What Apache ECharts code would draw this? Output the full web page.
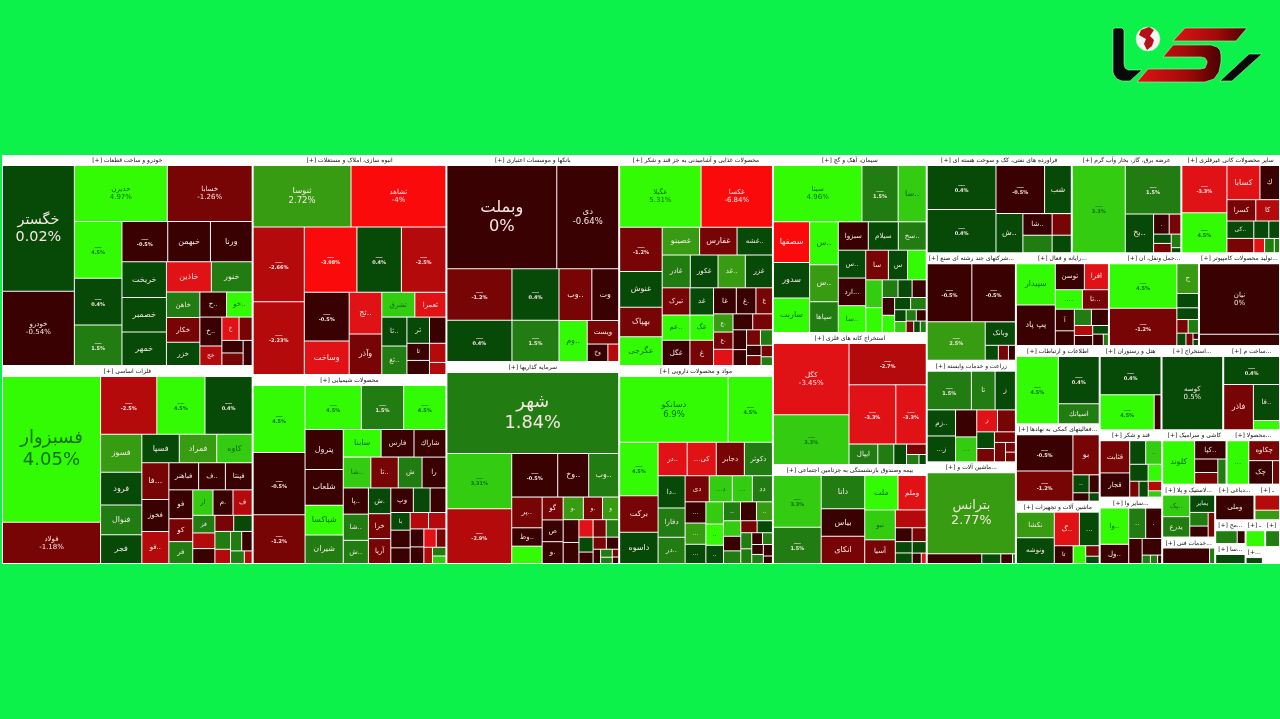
<!DOCTYPE html>
<html lang="fa"><head><meta charset="utf-8">
<style>html,body{margin:0;padding:0;background:#0df24a}#c{width:1280px;height:719px;filter:blur(.35px)}</style>
<script src="https://cdn.jsdelivr.net/npm/echarts@6/dist/echarts.min.js"></script>
</head><body><div id="c"></div>
<script>
// B marks a ticker too small to read in the picture.
const B='ــــ';
const sectorTitles=['خودرو و ساخت قطعات','فلزات اساسی','انبوه سازی، املاک و مستغلات','محصولات شیمیایی','بانکها و موسسات اعتباری','سرمایه گذاریها','محصولات غذایی و آشامیدنی به جز قند و شکر','مواد و محصولات دارویی','سیمان، آهک و گچ','استخراج کانه های فلزی','بیمه وصندوق بازنشستگی به جزتامین اجتماعی','فراورده های نفتی، کک و سوخت هسته ای','عرضه برق، گاز، بخار وآب گرم','سایر محصولات کانی غیرفلزی','شرکتهای چند رشته ای صنع...','ماشین آلات و دستگاههای بر...','زراعت و خدمات وابسته','رایانه و فعالیت های وابسته به آن','حمل ونقل، انبارداری و ارتباطا...','تولید محصولات کامپیوتر...','اطلاعات و ارتباطات','فعالیتهای کمکی به نهادها...','ماشین آلات و تجهیزات','هتل و رستوران','قند و شکر','سایر واسطه گری...','استخراج سایر معا...','ساخت محصولا...','کاشی و سرامیک','محصولات کاغ...','لاستیک و پلا...','خدمات فنی...','دباغی...','ـ','مح...','ـ ','ـ  ','سا...','ـ   ',''];
const sectorAreas=[52961,49698,42680,36666,35811,34946,32494,30492,27412,20328,15246,14259,10767,9700,9600,9078,9078,8649,8370,7533,6560,6500,5229,5210,4216,4154,5200,4788,3510,2916,2808,1404,1400,910,725,525,400,609,294,290];

const autoNames=['خگستر','خودرو','حدیرن','خسابا',B,B,B,B,'خبهمن','ورنا','خریخت','خصمبر','خمهر','خاذین','خنور','خاهن','خکر...','خوساز','خکار','خزر','خ...','خج...','خ...','','','',''];
const autoSizes=[8610,5040,4914,4482,2530,2070,1794,1716,1599,1560,1462,1419,1376,1247,1131,768,600,576,750,704,570,378,352,264,228,228,192];
const autoChanges=[0.02,-0.54,4.97,-1.26,4.5,0.4,1.5,-0.5,-0.5,-0.5,0.4,0.4,0.4,-3.3,1.5,1.5,-0.5,4.5,-1.2,0.4,-0.5,-2.5,-3.3,-1.2,-1.2,-0.5,-0.5];

const metalNames=['فسبزوار','فولاد',B,B,B,'فسوز','فرود','فنوال','فجر','فمراد','فسپا','کاوه','فا...','فولای','فخوز','فباهنر','فپنتا','فسا...','فولاژ','کویر','فرآور','ارفع','فزر...','کیمیا','فع...','م...','ف...','فن...','','','','','','',''];
const metalSizes=[13585,3800,3025,2585,2530,1440,1240,1120,1080,972,972,918,900,780,780,725,650,650,616,484,462,455,340,300,260,450,430,285,255,238,187,170,182,143,77];
const metalChanges=[4.05,-1.18,-2.5,4.5,0.4,2.5,0.4,1.5,0.4,2.5,0.4,3.3,-1.2,-2.5,-0.5,-0.5,-0.5,-0.5,-0.5,-1.2,1.5,3.3,1.5,-2.5,-1.2,-0.5,-2.5,-0.5,0.4,1.5,-2.5,-0.5,1.5,1.5,-2.5];

const buildNames=['ثنوسا','ثشاهد',B,B,B,B,B,B,'وساخت','ثجنوب','وآذر','ثشرق','ثعمرا','ثاخت','ثغرب','ثرود','ثالو...','ثا...','','ث...',''];
const buildSizes=[5664,5487,3577,3479,3213,2709,2709,2021,1376,1240,1209,736,690,650,640,525,336,375,273,270,165];
const buildChanges=[2.72,-4,-2.66,-2.23,-3.98,-2.5,0.4,-0.5,-3.3,-3.3,-1.2,3.3,-3.3,0.4,1.5,0.4,-0.5,-0.5,-0.5,-2.5,-2.5];

const chemNames=[B,B,B,B,B,B,'پترول','شلعاب','شپاکسا','شیران','سابنا','فارس','شاراك','شاروم','تاپیکو','راگر','شفن','شاملا','پارس','ش...','شمني','آریا','خرا','وپترو','کلر','','','با...','','','','','','','','','',''];
const chemSizes=[3185,2940,2303,2255,1681,1681,1368,1224,1008,972,925,800,775,750,745,644,644,575,575,500,506,483,483,480,352,330,289,289,255,252,238,204,187,187,143,110,91,77];
const chemChanges=[4.5,-0.5,-1.2,4.5,4.5,1.5,-0.5,-0.5,4.5,1.5,4.5,-0.5,-0.5,3.3,-1.2,-0.5,1.5,1.5,-0.5,0.4,1.5,-1.2,-1.2,-0.5,0.4,-0.5,-0.5,0.4,-0.5,-2.5,-2.5,-0.5,-3.3,-0.5,-1.2,-2.5,1.5,3.3];

const bankNames=['وبملت','دی',B,B,B,'وبصادر','وتجا...',B,'ومثل','ویست','وخ...',''];
const bankSizes=[11009,6161,3200,2560,2300,1600,1300,1840,1080,682,320,160];
const bankChanges=[0,-0.64,-1.2,0.4,0.4,-1.2,-0.5,1.5,4.5,-1.2,-0.5,-2.5];

const investNames=['شهر',B,B,B,'وخارزم','وبهمن','پردیس','وطوبی','واتی','گو...','و...','صبا','و...','و...','و...','','','','','آ...','','','','','','','','',''];
const investSizes=[13167,3339,3300,1845,1230,1189,841,493,464,420,400,400,399,378,315,310,285,208,192,182,176,132,130,121,84,72,55,35,28];
const investChanges=[1.84,3.31,-2.9,-0.5,-0.5,1.5,-1.2,-0.5,4.5,-1.2,-0.5,-0.5,2.5,-1.2,2.5,-0.5,-0.5,-3.3,-1.2,1.5,0.4,-0.5,-1.2,-0.5,-0.5,1.5,1.5,-1.2,-0.5];

const foodNames=['عگیلا','غکسا',B,'غنوش','بهپاک','عگرجی','غفارس','غصینو','غشهداب','غادر','غکور','غدشت','غزر','تبرک','غگل','عمهرا','غدانه','غسالم','عگیپا','غالبر','غ...','غ...','ع...','ع...','غ...','غ...','ع...','','','','','','','',''];
const foodSizes=[4720,4130,1722,1394,1148,1107,936,936,884,830,820,805,800,676,624,624,572,528,528,525,450,375,306,288,270,270,270,228,180,180,154,121,117,104,77];
const foodChanges=[5.31,-6.84,-1.2,0.4,-1.2,4.5,-1.2,2.5,0.4,1.5,0.4,2.5,0.4,-1.2,-0.5,4.5,0.4,-1.2,4.5,-0.5,-0.5,-1.2,2.5,-1.2,-1.2,-0.5,-3.3,-0.5,-1.2,-0.5,1.5,-0.5,-1.2,-1.2,1.5];

const drugNames=['دسانکو',B,B,'برکت','داسوه','...کی','درهآور','دکوثر','دجابر','دامین','دفارا','دره...','دیران','...د','ددام','...د','...در','','...ری','...و','...وا','...د','...د','...د','','','','','','','','','','','','','',''];
const drugSizes=[6634,2666,1872,1260,1080,868,868,837,837,775,700,625,552,528,456,456,380,336,380,320,342,272,272,255,255,225,210,180,160,150,143,130,100,91,90,81,81,50];
const drugChanges=[6.9,4.5,4.5,-1.2,0.4,-3.3,-3.3,1.5,-1.2,0.4,1.5,1.5,-1.2,3.3,1.5,3.3,2.5,3.3,-0.5,4.5,0.4,1.5,0.4,2.5,-0.5,3.3,-0.5,1.5,-1.2,0.4,1.5,1.5,-0.5,1.5,-0.5,-0.5,1.5,-0.5];

const cementNames=['سیتا',B,'ساوه','سصفها','سدور','ساربت','سفاین','سفار...','سپاها','سیلام','سبزوا','سخور','سشرق','ساربیل','سفار','ارد...','ساپنت','س...','','','','','','','','','','','','','','','',''];
const cementSizes=[4611,1855,1431,1326,1156,1122,1107,945,783,756,756,702,676,589,494,670,650,484,396,352,234,208,208,182,176,160,156,108,99,90,88,66,55,50];
const cementChanges=[4.96,1.5,3.3,-4,0.4,4.5,4.5,2.5,1.5,0.4,-0.5,1.5,0.4,-1.2,0.4,-0.5,4.5,4.5,3.3,4.5,1.5,-0.5,0.4,-0.5,4.5,0.4,1.5,0.4,3.3,1.5,-0.5,-1.2,0.4,1.5];

const oreNames=['کگل',B,B,B,B,'ایپال','','','','',''];
const oreSizes=[5037,3504,2964,2565,1653,520,280,220,171,99,54];
const oreChanges=[-3.45,3.3,-2.7,-3.3,-3.3,1.5,1.5,0.4,-1.2,1.5,0.4];

const insureNames=[B,B,'دانا','بیاس','انکای','ملت','وملم','نبو','آسیا','پارسیان','','','','','','',''];
const insureSizes=[2254,1564,1302,1070,1065,1024,864,812,638,480,192,160,156,144,130,72,36];
const insureChanges=[3.3,1.5,1.5,-0.5,-1.2,4.5,-3.3,3.3,-1.2,-2.5,-0.5,-1.2,0.4,0.4,0.4,-0.5,-3.3];

const oilNames=[B,B,B,'شبریز','شبهرن','شاوان','شپاس','',''];
const oilSizes=[2814,2747,2160,1170,950,560,448,360,288];
const oilChanges=[0.4,0.4,-0.5,0.4,0.4,-0.5,1.5,-1.2,0.4];

const powerNames=[B,B,'بخهرم','...د','','','','',''];
const powerSizes=[4368,2530,999,270,198,136,135,105,34];
const powerChanges=[3.3,1.5,0.4,-0.5,-1.2,0.4,-1.2,1.5,0.4];

const mineralNames=[B,B,'کسابا','ك...','کسرا','کاذر','کیشیر','','','کفپا...','','',''];
const mineralSizes=[1845,1558,961,558,513,418,384,208,144,312,117,104,52];
const mineralChanges=[-3.3,4.5,-3.3,-0.5,-1.2,-2.5,0.4,0.4,0.4,-1.2,-3.3,1.5,1.5];

const multiNames=[B,B,B,'وبانک','','',''];
const multiSizes=[2322,2268,1980,609,156,117,78];
const multiChanges=[-0.5,-0.5,2.5,0.4,0.4,-1.2,-0.5];

const machineNames=['بترانس','','','',''];
const machineSizes=[6794,468,153,90,18];
const machineChanges=[2.77,-0.5,0.4,-0.5,1.5];

const farmNames=[B,'تابیسه','زفجر','زملارد','...ز','','...زبنا','زفکا','','','','','','',''];
const farmSizes=[1485,783,667,625,620,480,441,378,323,238,187,176,170,70,70];
const farmChanges=[1.5,1.5,0.4,0.4,0.4,-0.5,3.3,-3.3,-1.2,0.4,-1.2,-1.2,-1.2,-1.2,-1.2];

const softNames=['سپیدار','پپ پاد','توسن','افرا','...س','تا...','آپ','','','','','...ل','','',''];
const softSizes=[1406,1369,644,529,442,425,340,226,224,144,144,224,104,91,40];
const softChanges=[4.5,-0.5,-0.5,-3.3,4.5,-1.2,-0.5,-0.5,-0.5,-0.5,-2.5,1.5,0.4,-0.5,1.5];

const transNames=[B,B,'حتاید','','','','','','','',''];
const transSizes=[2665,2210,546,252,204,119,108,84,63,21,21];
const transChanges=[4.5,-1.2,2.5,0.4,0.4,-1.2,1.5,0.4,-1.2,0.4,-0.5];

const compNames=['نیان',''];
const compSizes=[5082,770];
const compChanges=[0,-0.5];

const infoNames=[B,B,'اسیاتك'];
const infoSizes=[2520,1716,702];
const infoChanges=[4.5,0.4,1.5];

const aidNames=[B,B,'بورس','...ا','','',''];
const aidSizes=[1836,1512,925,240,144,105,63];
const aidChanges=[-0.5,-1.2,-1.2,0.4,-0.5,-0.5,0.4];

const equipNames=['ونوشه','نکشا','گندیرا','...ان','تابرا','','',''];
const equipSizes=[828,828,713,558,272,176,108,72];
const equipChanges=[0.4,2.5,-3.3,0.4,-0.5,4.5,-1.2,0.4];

const hotelNames=[B,B,''];
const hotelSizes=[2065,1664,192];
const hotelChanges=[0.4,4.5,-0.5];

const sugarNames=['قثابت','قجار','...ل','','','','','','',''];
const sugarSizes=[868,644,330,330,270,195,120,120,104,65];
const sugarChanges=[-1.2,-0.5,3.3,0.4,0.4,4.5,0.4,-1.2,-2.5,3.3];

const brokerNames=['واپران','ولساپا','...و','...و','','...و','','',''];
const brokerSizes=[891,459,432,405,276,266,49,42,21];
const brokerChanges=[4.5,-0.5,1.5,-0.5,-0.5,-0.5,1.5,1.5,-0.5];

const otherMineNames=['کوسه'];
const otherMineSizes=[4071];
const otherMineChanges=[0.5];

const fabNames=[B,'فاذر','فاراك',''];
const fabSizes=[1344,1152,798,190];
const fabChanges=[0.4,-1.2,0.4,4.5];

const tileNames=['کلوند','کپارس','','',''];
const tileSizes=[1200,480,253,216,162];
const tileChanges=[4.5,-0.5,-0.5,-1.2,1.5];

const paperNames=['...ج','چکاوه','چکاپا',''];
const paperSizes=[800,510,462,126];
const paperChanges=[4.5,-1.2,-0.5,-1.2];

const rubberNames=['پکویر','یدرع','یمایر','','',''];
const rubberSizes=[475,450,345,195,154,120];
const rubberChanges=[3.3,1.5,0.4,1.5,-0.5,-1.2];

const serviceNames=['رمپنا',''];
const serviceSizes=[572,52];
const serviceChanges=[-0.5,1.5];

const leatherNames=['وملی'];
const leatherSizes=[703];
const leatherChanges=[-0.5];

const smallANames=['',''];
const smallASizes=[247,152];
const smallAChanges=[-2.5,2.5];

const smallBNames=['',''];
const smallBSizes=[198,66];
const smallBChanges=[1.5,-0.5];

const smallCNames=[''];
const smallCSizes=[231];
const smallCChanges=[4.5];

const smallDNames=[''];
const smallDSizes=[143];
const smallDChanges=[1.5];

const smallENames=[''];
const smallESizes=[189];
const smallEChanges=[0.4];

const smallFNames=[''];
const smallFSizes=[90];
const smallFChanges=[0.4];

const blankNames=[''];
const blankSizes=[200];
const blankChanges=[null];

const sectorTiles=[
 [autoNames,autoSizes,autoChanges],[metalNames,metalSizes,metalChanges],[buildNames,buildSizes,buildChanges],[chemNames,chemSizes,chemChanges],
 [bankNames,bankSizes,bankChanges],[investNames,investSizes,investChanges],[foodNames,foodSizes,foodChanges],[drugNames,drugSizes,drugChanges],
 [cementNames,cementSizes,cementChanges],[oreNames,oreSizes,oreChanges],[insureNames,insureSizes,insureChanges],[oilNames,oilSizes,oilChanges],
 [powerNames,powerSizes,powerChanges],[mineralNames,mineralSizes,mineralChanges],[multiNames,multiSizes,multiChanges],[machineNames,machineSizes,machineChanges],
 [farmNames,farmSizes,farmChanges],[softNames,softSizes,softChanges],[transNames,transSizes,transChanges],[compNames,compSizes,compChanges],
 [infoNames,infoSizes,infoChanges],[aidNames,aidSizes,aidChanges],[equipNames,equipSizes,equipChanges],[hotelNames,hotelSizes,hotelChanges],
 [sugarNames,sugarSizes,sugarChanges],[brokerNames,brokerSizes,brokerChanges],[otherMineNames,otherMineSizes,otherMineChanges],[fabNames,fabSizes,fabChanges],
 [tileNames,tileSizes,tileChanges],[paperNames,paperSizes,paperChanges],[rubberNames,rubberSizes,rubberChanges],[serviceNames,serviceSizes,serviceChanges],
 [leatherNames,leatherSizes,leatherChanges],[smallANames,smallASizes,smallAChanges],[smallBNames,smallBSizes,smallBChanges],[smallCNames,smallCSizes,smallCChanges],
 [smallDNames,smallDSizes,smallDChanges],[smallENames,smallESizes,smallEChanges],[smallFNames,smallFSizes,smallFChanges],[blankNames,blankSizes,blankChanges]
];

function colorOf(c){
  if(c===null) return '#ffffff';
  if(c<=-3.9) return '#fb0a0c';
  if(c<=-3) return '#e01216';
  if(c<=-2) return '#b40a0c';
  if(c<=-1) return '#780505';
  if(c<=0) return '#3a0103';
  if(c<1) return '#074a08';
  if(c<2.2) return '#217c12';
  if(c<3) return '#389c12';
  if(c<4) return '#33cc10';
  return '#33fb04';
}
function labelOf(name,size,c){
  if(!name) return {show:false};
  const ink=c>=3?'#0b6f10':'#f6e6e4';
  const pct=c+'%';
  const base={show:true,color:ink,fontFamily:'"DejaVu Sans",sans-serif',position:'inside',align:'center',verticalAlign:'middle',overflow:'truncate',ellipsis:'..'};
  if(name===B) return {...base,fontSize:5,lineHeight:6,fontWeight:'bold',formatter:name+'\n'+pct};
  if(size>=5500){
    const fs=size>=6700?Math.min(19,Math.sqrt(size)*0.155):8.5;
    return {...base,fontSize:fs,lineHeight:fs*1.18,formatter:name+'\n'+pct};
  }
  if(size>=3700) return {...base,fontSize:7,lineHeight:8,formatter:name+'\n'+pct};
  return {...base,fontSize:size>=900?8:size>=400?7:6,formatter:name};
}
// Tile sizes were read without the 1px gap round each tile; the layout needs it back.
const withGap=s=>Math.pow(Math.sqrt(s)+1,2);
const treeData=sectorTitles.map((t,i)=>{
  const [ns,ss,cs]=sectorTiles[i];
  return {
    name:t?('[+] '+t):'',value:sectorAreas[i],
    children:ss.map((s,j)=>({
      name:ns[j]||'',value:withGap(s),
      itemStyle:{color:colorOf(cs[j])},
      label:labelOf(ns[j],s,cs[j])
    }))
  };
});

const redFade={type:'linear',x:0,y:0,x2:1,y2:0,colorStops:[{offset:0,color:'#e01414'},{offset:.6,color:'#a00a0a'},{offset:1,color:'#4a0000'}]};
const edge={stroke:'#bfe8c0',lineWidth:.6};
const chart=echarts.init(document.getElementById('c'),null,{renderer:'canvas'});
chart.setOption({
  animation:false,
  backgroundColor:'#0df24a',
  tooltip:{show:false},
  graphic:[
   {type:'polygon',shape:{points:[[1113,29],[1115,28],[1122,28],[1124,30],[1124,64],[1125,68],[1128,70],[1142,70],[1130,81],[1122,81],[1117,79],[1114,75],[1113,72]]},style:{fill:'#0a0a0a',...edge}},
   {type:'polygon',shape:{points:[[1185,28],[1247,28],[1236,41],[1173,41]]},style:{fill:redFade,...edge}},
   {type:'polygon',shape:{points:[[1163,57],[1173,45],[1211,45],[1217,47],[1220,50],[1221,55],[1221,62],[1219,72],[1214,79],[1205,82],[1137,82],[1148,69],[1200,69],[1205,68],[1207,63],[1207,61],[1205,58],[1201,57]]},style:{fill:redFade,...edge}},
   {type:'polygon',shape:{points:[[1249,54],[1262,54],[1232,81],[1220,81]]},style:{fill:'#0a0a0a',...edge}},
   {type:'circle',shape:{cx:1148,cy:39,r:12},style:{fill:'#f4f4f0',...edge}},
   {type:'polygon',shape:{points:[[1141,30],[1149,27],[1154,30],[1150,36],[1154,40],[1152,46],[1147,50],[1144,44],[1146,39],[1139,35]]},style:{fill:'#b31018'}}
  ],
  series:[{
    type:'treemap',left:2,top:155,width:1278,height:409,
    roam:false,nodeClick:false,silent:true,squareRatio:1,
    breadcrumb:{show:false},
    sort:'desc',visibleMin:0,childrenVisibleMin:0,
    label:{show:true},
    upperLabel:{show:false},
    levels:[
      {itemStyle:{borderWidth:0,gapWidth:0,borderColor:'#fff'}},
      {itemStyle:{borderWidth:1,gapWidth:1,borderColor:'#fff'},
       upperLabel:{show:true,height:11,position:'inside',color:'#111',fontSize:6,fontFamily:'"DejaVu Sans",sans-serif',align:'center',verticalAlign:'middle',overflow:'truncate',ellipsis:'...'}},
      {itemStyle:{borderWidth:0,gapWidth:0}}
    ],
    data:treeData
  }]
});
</script></body></html>
